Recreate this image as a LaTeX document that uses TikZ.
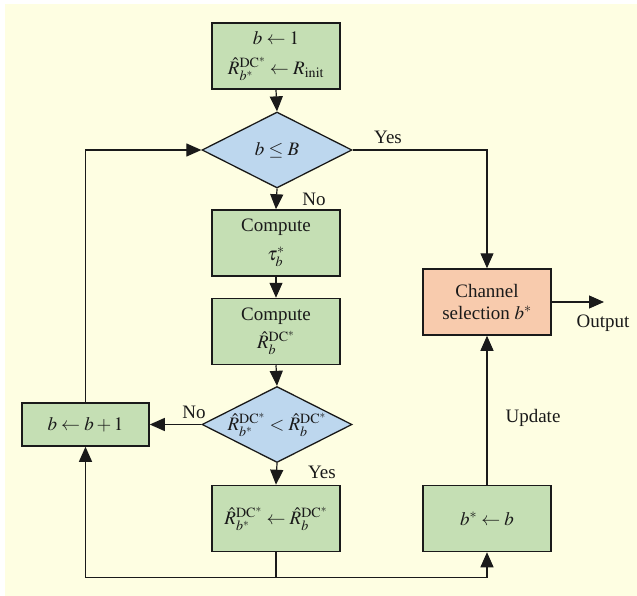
\documentclass[tikz,border=0pt]{standalone}
\usepackage{mathptmx}
\usepackage{fontspec}
\setmainfont{Liberation Serif}
\usetikzlibrary{shapes.geometric,arrows.meta}
\definecolor{bgc}{HTML}{FEFEE2}
\definecolor{boxg}{HTML}{C5DFB4}
\definecolor{diab}{HTML}{BDD7EE}
\definecolor{sal}{HTML}{F8CBAD}
\definecolor{linec}{HTML}{1A1A1A}
\newcommand{\myR}[1]{\hat{R}_{#1}^{\mathrm{DC}^{*}}}
\begin{document}
\begin{tikzpicture}[x=1pt,y=-1pt,
  every node/.style={font=\fontsize{19}{24}\selectfont, text=linec},
  stepbox/.style={draw=linec, line width=1.5pt, fill=boxg, minimum width=128pt, minimum height=66pt, inner sep=0pt, align=center},
  dia/.style={diamond, draw=linec, line width=1.3pt, fill=diab, minimum width=150pt, minimum height=76pt, inner sep=0pt, aspect=2},
  arr/.style={-{Triangle[length=15pt,width=13pt]}, line width=1.2pt, draw=linec},
  conn/.style={line width=1.2pt, draw=linec},
  lab/.style={inner sep=0pt}
]
\useasboundingbox (0,0) rectangle (637,596);
\fill[bgc] (5,4) rectangle (637,596);

\node[stepbox] (init) at (276,56) {$b\leftarrow 1$\\[6pt] $\myR{b^*}\leftarrow R_{\mathrm{init}}$};
\node[dia] (d1) at (277,150) {$b\le B$};
\node[stepbox] (comp1) at (276,243) {Compute\\[5pt] $\tau_b^{*}$};
\node[stepbox] (comp2) at (276,331.5) {Compute\\[4pt] $\myR{b}$};
\node[dia] (d2) at (277,424.5) {$\myR{b^*}<\myR{b}$};
\node[stepbox] (upd) at (276,518.5) {$\myR{b^*}\leftarrow\myR{b}$};
\node[stepbox, minimum width=127pt, minimum height=43pt] (inc) at (85.5,424.5) {$b\leftarrow b+1$};
\node[stepbox, fill=sal, font=\fontsize{19}{22}\selectfont] (sel) at (487,302) {Channel\\ selection $b^{*}$};
\node[stepbox] (bst) at (487,518.5) {$b^{*}\leftarrow b$};

\coordinate (bot) at (276,577.5);
\coordinate (out) at (604,302);

\draw[arr] (init.south) -- (d1.north);
\draw[arr] (d1.south) -- (comp1.north);
\draw[arr] (comp1.south) -- (comp2.north);
\draw[arr] (comp2.south) -- (d2.north);
\draw[arr] (d2.south) -- (upd.north);
\draw[arr] (d2.west) -- (inc.east);
\draw[arr] (inc.north) |- (d1.west);
\draw[arr] (d1.east) -| (sel.north);
\draw[conn] (upd.south) -- (bot);
\draw[arr] (bot) -| (inc.south);
\draw[arr] (bot) -| (bst.south);
\draw[arr] (bst.north) -- (sel.south);
\draw[arr] (sel.east) -- (out);

\node[lab] (ly1) at (388,137) {Yes};
\node[lab] (ln1) at (314,199) {No};
\node[lab] (ln2) at (194,412) {No};
\node[lab] (ly2) at (322,472) {Yes};
\node[lab] (lout) at (603,323) {Output};
\node[lab] (lupd) at (533,418) {Update};
\end{tikzpicture}
\end{document}
